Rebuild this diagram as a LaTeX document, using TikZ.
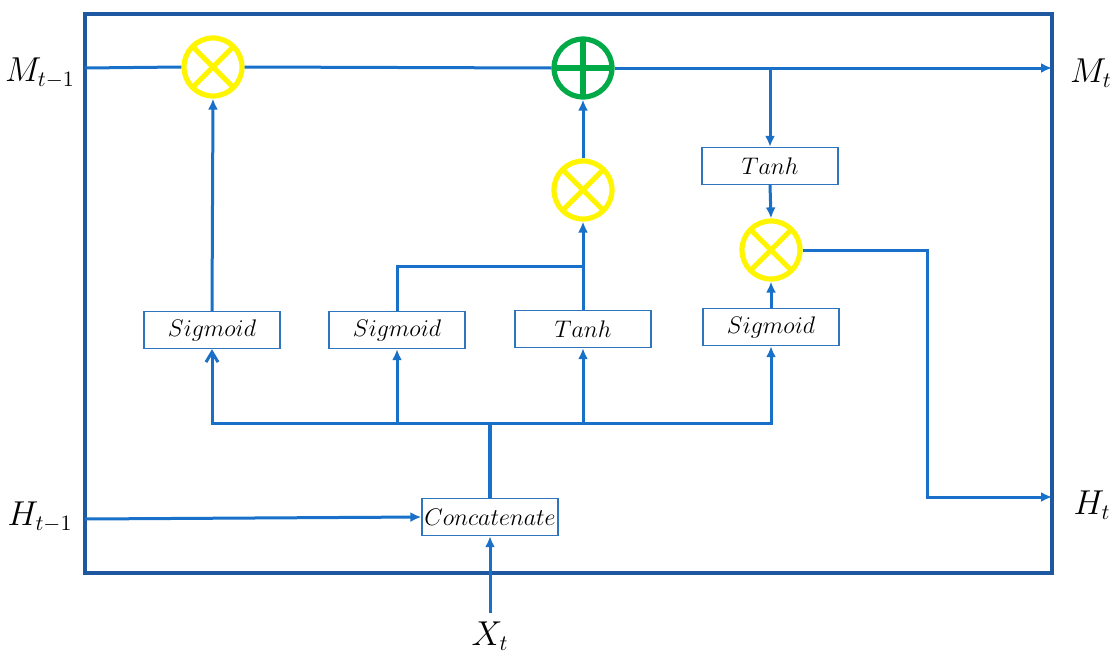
\documentclass[tikz,border=0pt]{standalone}
\usetikzlibrary{arrows.meta}
\definecolor{arrblue}{RGB}{24,112,200}
\definecolor{frameblue}{RGB}{30,88,160}
\definecolor{boxblue}{RGB}{46,117,190}
\definecolor{opyellow}{RGB}{255,245,0}
\definecolor{opgreen}{RGB}{0,170,70}
\begin{document}
\begin{tikzpicture}[x=0.5pt,y=-0.5pt,
  arr/.style={-{Latex[length=5.5pt,width=5pt]}},
  wire/.style={draw=arrblue,line width=1.5pt},
  fnbox/.style={draw=boxblue,line width=0.7pt,fill=white,minimum width=68pt,minimum height=18.5pt,inner sep=0pt,font=\fontsize{11.5}{13}\selectfont},
  mulop/.style={circle,draw=opyellow,line width=2.6pt,minimum size=29pt,inner sep=0pt,
    path picture={\draw[opyellow,line width=2.6pt] (path picture bounding box.north east) -- (path picture bounding box.south west) (path picture bounding box.north west) -- (path picture bounding box.south east);}},
  addop/.style={circle,draw=opgreen,line width=2.6pt,minimum size=29pt,inner sep=0pt,
    path picture={\draw[opgreen,line width=2.6pt] (path picture bounding box.north) -- (path picture bounding box.south) (path picture bounding box.west) -- (path picture bounding box.east);}},
  lbl/.style={font=\fontsize{16}{18}\selectfont,inner sep=0pt}]
\useasboundingbox (0,0) rectangle (1111,653);
% frame
\draw[frameblue,line width=1.75pt] (85,14) rectangle (1052,573);
% operators
\node[mulop] (mul1) at (213,67) {};
\node[addop] (plus) at (583,68) {};
\node[mulop] (mul2) at (583,190) {};
\node[mulop] (mul3) at (771,250) {};
% boxes
\node[fnbox] (tanh1) at (770,166) {$Tanh$};
\node[fnbox] (sig1) at (212,330) {$Sigmoid$};
\node[fnbox] (sig2) at (397,330) {$Sigmoid$};
\node[fnbox] (tanh2) at (583,329) {$Tanh$};
\node[fnbox] (sig4) at (771,327) {$Sigmoid$};
\node[fnbox] (concat) at (490,517) {$Concatenate$};
% labels
\node[lbl] (lm1) at (40,73) {$M_{t-1}$};
\node[lbl] (lm) at (1091,73) {$M_{t}$};
\node[lbl] (lh1) at (40,517) {$H_{t-1}$};
\node[lbl] (lh) at (1092,505) {$H_{t}$};
\node[lbl] (lx) at (490,636) {$X_{t}$};
% coordinates
\coordinate (mstart) at (85,68);
\coordinate (mend) at (1052,68);
\coordinate (mbr) at (770,68);
\coordinate (hturn) at (927,497);
\coordinate (hend) at (1052,497);
\coordinate (join) at (583,266);
\coordinate (bj) at (490,423);
\coordinate (hin) at (85,519);
\coordinate (xin) at (490,613);
% memory line
\draw[wire] (mstart) -- (mul1.west);
\draw[wire] (mul1.east) -- (plus.west);
\draw[wire,arr] (plus.east) -- (mend);
\draw[wire,arr] (mbr) -- (tanh1.north);
\draw[wire,arr] (tanh1.south) -- (mul3.north);
\draw[wire,arr] (sig4.north) -- (mul3.south);
\draw[wire,arr] (mul3.east) -| (hturn) -- (hend);
% forget / input gates
\draw[wire,arr] (sig1.north) -- (mul1.south);
\draw[wire] (sig2.north) |- (join);
\draw[wire,arr] (tanh2.north) -- (mul2.south);
\draw[wire,arr] (mul2.north) -- (plus.south);
% bus
\draw[wire,line width=2pt] (concat.north) -- (bj);
\draw[wire,-{Straight Barb[length=5pt,width=6pt]}] (bj) -| (sig1.south);
\draw[wire,arr] (bj) -| (sig4.south);
\draw[wire,arr] (sig2.south |- bj) -- (sig2.south);
\draw[wire,arr] (tanh2.south |- bj) -- (tanh2.south);
% inputs
\draw[wire,arr] (hin) -- (concat.west);
\draw[wire,arr] (xin) -- (concat.south);
\end{tikzpicture}
\end{document}
